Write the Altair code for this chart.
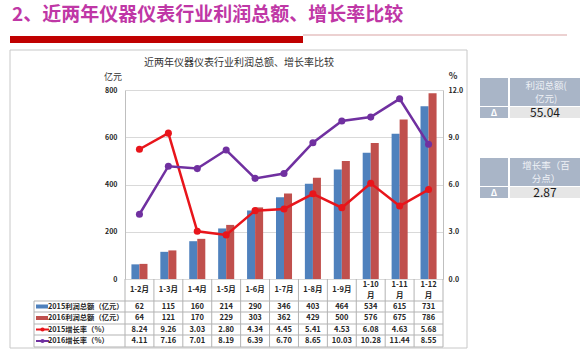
import altair as alt
import pandas as pd

months = ["1-2月", "1-3月", "1-4月", "1-5月", "1-6月", "1-7月", "1-8月", "1-9月", "1-10月", "1-11月", "1-12月"]
month_line1 = ["1-2月", "1-3月", "1-4月", "1-5月", "1-6月", "1-7月", "1-8月", "1-9月", "1-10", "1-11", "1-12"]
month_line2 = ["", "", "", "", "", "", "", "", "月", "月", "月"]
profit_2015 = [62, 115, 160, 214, 290, 346, 403, 464, 534, 615, 731]
profit_2016 = [64, 121, 170, 229, 303, 362, 429, 500, 576, 675, 786]
rate_2015 = [8.24, 9.26, 3.03, 2.80, 4.34, 4.45, 5.41, 4.53, 6.08, 4.63, 5.68]
rate_2016 = [4.11, 7.16, 7.01, 8.19, 6.39, 6.70, 8.65, 10.03, 10.28, 11.44, 8.55]
series_names = ["2015利润总额（亿元）", "2016利润总额（亿元）", "2015增长率（%）", "2016增长率（%）"]
series_colors = ["#4f81bd", "#c0504d", "#e8151b", "#7030a0"]
left_ticks = [0, 200, 400, 600, 800]
right_ticks = [0, 3, 6, 9, 12]
page_title = "2、近两年仪器仪表行业利润总额、增长率比较"
chart_title = "近两年仪器仪表行业利润总额、增长率比较"
panel_headers = [["利润总额(", "亿元)"], ["增长率（百", "分点）"]]
panel_values = ["55.04", "2.87"]

FONT = "Noto Sans CJK SC"
W, H = 318, 189

bar_df = pd.DataFrame({
    "month": months * 2,
    "series": [series_names[0]] * 11 + [series_names[1]] * 11,
    "value": profit_2015 + profit_2016,
})
line_df = pd.DataFrame({
    "month": months * 2,
    "series": [series_names[2]] * 11 + [series_names[3]] * 11,
    "rate": rate_2015 + rate_2016,
})
table_rows = [
    [str(v) for v in profit_2015],
    [str(v) for v in profit_2016],
    [f"{v:.2f}" for v in rate_2015],
    [f"{v:.2f}" for v in rate_2016],
]

color_scale = alt.Scale(domain=series_names, range=series_colors)
x_main = alt.X("month:N", sort=months, scale=alt.Scale(paddingInner=0, paddingOuter=0), axis=None)
one = pd.DataFrame({"a": [0]})

def base():
    return alt.Chart(one)

layers = []

# ---- page decorations (relative to plot origin) ----
layers.append(base().mark_rect(filled=False, stroke="#c8c8c8", strokeWidth=1).encode(
    x=alt.value(-115), x2=alt.value(342), y=alt.value(-40), y2=alt.value(258)))
layers.append(base().mark_text(font=FONT, fontSize=19, fontWeight="bold", color="#bf37a6",
                               align="left", baseline="middle").encode(
    x=alt.value(-113), y=alt.value(-75), text=alt.value(page_title)))
layers.append(base().mark_rect(color="#c00000").encode(
    x=alt.value(-115), x2=alt.value(178), y=alt.value(-54), y2=alt.value(-47)))
layers.append(base().mark_rule(color="#d9a3a3", strokeWidth=1).encode(
    x=alt.value(178), x2=alt.value(442), y=alt.value(-55)))
layers.append(base().mark_text(font=FONT, fontSize=10, color="#333333", baseline="middle").encode(
    x=alt.value(114), y=alt.value(-27), text=alt.value(chart_title)))
layers.append(base().mark_text(font=FONT, fontSize=9, color="#333333", baseline="middle").encode(
    x=alt.value(-12), y=alt.value(-13), text=alt.value("亿元")))
layers.append(base().mark_text(font=FONT, fontSize=9, fontWeight="bold", color="#333333", baseline="middle").encode(
    x=alt.value(328), y=alt.value(-14), text=alt.value("%")))

# ---- right panels ----
for i, top in enumerate([-12, 68]):
    layers.append(base().mark_rect(color="#a9b5c7").encode(
        x=alt.value(355), x2=alt.value(383), y=alt.value(top), y2=alt.value(top + 28)))
    layers.append(base().mark_rect(color="#a9b5c7").encode(
        x=alt.value(385), x2=alt.value(455), y=alt.value(top), y2=alt.value(top + 28)))
    layers.append(base().mark_rect(color="#a9b5c7").encode(
        x=alt.value(355), x2=alt.value(383), y=alt.value(top + 29), y2=alt.value(top + 40)))
    layers.append(base().mark_rect(color="#e6e6e6").encode(
        x=alt.value(385), x2=alt.value(455), y=alt.value(top + 29), y2=alt.value(top + 40)))
    layers.append(base().mark_text(font=FONT, fontSize=9.5, color="#eef1f6", baseline="middle").encode(
        x=alt.value(421), y=alt.value(top + 7.5), text=alt.value(panel_headers[i][0])))
    layers.append(base().mark_text(font=FONT, fontSize=9.5, color="#eef1f6", baseline="middle").encode(
        x=alt.value(421), y=alt.value(top + 20.5), text=alt.value(panel_headers[i][1])))
    layers.append(base().mark_text(font=FONT, fontSize=12, color="#1a1a1a", baseline="middle").encode(
        x=alt.value(420), y=alt.value(top + 35), text=alt.value(panel_values[i])))
    layers.append(base().mark_text(font=FONT, fontSize=9, fontWeight="bold", color="white", baseline="middle").encode(
        x=alt.value(369), y=alt.value(top + 35), text=alt.value("Δ")))

# ---- bars (left axis) ----
bars = alt.Chart(bar_df).mark_bar().encode(
    x=x_main,
    xOffset=alt.XOffset("series:N", scale=alt.Scale(paddingInner=0, paddingOuter=0.8)),
    y=alt.Y("value:Q", scale=alt.Scale(domain=[0, 800]),
            axis=alt.Axis(orient="left", values=left_ticks, title=None, grid=True, gridColor="#d9d9d9",
                          domain=True, domainColor="#bfbfbf", ticks=False,
                          labelFont=FONT, labelFontSize=7, labelFontWeight="bold",
                          labelColor="#262626", labelPadding=8)),
    color=alt.Color("series:N", scale=color_scale, legend=None),
)

# ---- lines (right axis) ----
lines = alt.Chart(line_df).mark_line(strokeWidth=2.5, point=alt.OverlayMarkDef(size=50, filled=True)).encode(
    x=x_main,
    y=alt.Y("rate:Q", scale=alt.Scale(domain=[0, 12]),
            axis=alt.Axis(orient="right", values=right_ticks, format=".1f", title=None, grid=False,
                          domain=True, domainColor="#bfbfbf", ticks=False,
                          labelFont=FONT, labelFontSize=7, labelFontWeight="bold",
                          labelColor="#262626", labelPadding=5)),
    color=alt.Color("series:N", scale=color_scale, legend=None),
)

# ---- data table ----
tbl = []
month_df = pd.DataFrame({"month": months, "l1": month_line1, "l2": month_line2})
single_df = month_df[month_df["l2"] == ""]
double_df = month_df[month_df["l2"] != ""]
tbl.append(alt.Chart(month_df).mark_rule(color="#b3b3b3", strokeWidth=1).encode(
    x=alt.X("month:N", sort=months, bandPosition=0, axis=None),
    y=alt.value(189), y2=alt.value(257)))
tbl.append(base().mark_rule(color="#b3b3b3", strokeWidth=1).encode(
    x=alt.value(W), y=alt.value(189), y2=alt.value(257)))
tbl.append(base().mark_rule(color="#b3b3b3", strokeWidth=1).encode(
    x=alt.value(-91), y=alt.value(211), y2=alt.value(257)))
for yy in [211, 222, 234, 245, 257]:
    tbl.append(base().mark_rule(color="#b3b3b3", strokeWidth=1).encode(
        x=alt.value(-91), x2=alt.value(W), y=alt.value(yy)))
txt_kw = dict(font=FONT, fontSize=7.5, fontWeight="bold", color="#262626", baseline="middle")
tbl.append(alt.Chart(single_df).mark_text(**txt_kw).encode(
    x=alt.X("month:N", sort=months, axis=None), y=alt.value(200), text="l1:N"))
tbl.append(alt.Chart(double_df).mark_text(**txt_kw).encode(
    x=alt.X("month:N", sort=months, axis=None), y=alt.value(195), text="l1:N"))
tbl.append(alt.Chart(double_df).mark_text(**txt_kw).encode(
    x=alt.X("month:N", sort=months, axis=None), y=alt.value(205.5), text="l2:N"))
row_y = [216.5, 228, 239.5, 251]
for r, vals in enumerate(table_rows):
    df = pd.DataFrame({"month": months, "txt": vals})
    tbl.append(alt.Chart(df).mark_text(**txt_kw).encode(
        x=alt.X("month:N", sort=months, axis=None), y=alt.value(row_y[r]), text="txt:N"))
    if r < 2:
        tbl.append(base().mark_rect(color=series_colors[r]).encode(
            x=alt.value(-89), x2=alt.value(-77), y=alt.value(row_y[r] - 2), y2=alt.value(row_y[r] + 2)))
    else:
        tbl.append(base().mark_rule(color=series_colors[r], strokeWidth=2).encode(
            x=alt.value(-89), x2=alt.value(-76), y=alt.value(row_y[r])))
        tbl.append(base().mark_point(color=series_colors[r], filled=True, size=18, opacity=1).encode(
            x=alt.value(-82.5), y=alt.value(row_y[r])))
    tbl.append(base().mark_text(font=FONT, fontSize=7.3, fontWeight="bold", color="#262626",
                                align="left", baseline="middle").encode(
        x=alt.value(-77), y=alt.value(row_y[r]), text=alt.value(series_names[r])))

chart = alt.layer(*layers, bars, lines, *tbl).resolve_scale(y="independent").properties(
    width=W, height=H,
    autosize=alt.AutoSizeParams(type="none"),
    padding={"left": 125, "top": 90, "right": 137, "bottom": 73},
    background="white",
).configure_view(stroke=None)

chart.save("out.html", embed_options={"renderer": "svg", "actions": False})
